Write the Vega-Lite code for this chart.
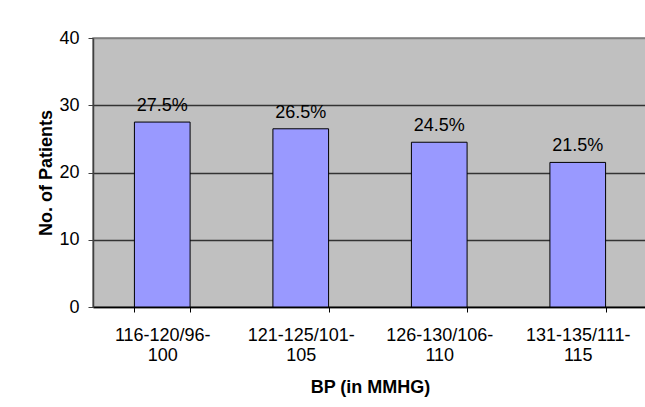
{
  "$schema": "https://vega.github.io/schema/vega-lite/v6.json",
  "width": 554,
  "height": 269,
  "autosize": {"type": "none"},
  "padding": {"left": 93, "top": 38, "right": 0, "bottom": 100},
  "background": "white",
  "config": {
    "font": "Liberation Sans",
    "view": {"fill": "#c0c0c0", "stroke": "#808080", "strokeWidth": 1.5}
  },
  "data": {
    "values": [
      {"bp": "116-120/96-100", "value": 27.5, "label": "27.5%"},
      {"bp": "121-125/101-105", "value": 26.5, "label": "26.5%"},
      {"bp": "126-130/106-110", "value": 24.5, "label": "24.5%"},
      {"bp": "131-135/111-115", "value": 21.5, "label": "21.5%"}
    ]
  },
  "encoding": {
    "x": {
      "field": "bp",
      "type": "nominal",
      "sort": null,
      "scale": {"paddingInner": 0.598, "paddingOuter": 0.299},
      "axis": {
        "title": "BP (in MMHG)",
        "titleFontSize": 18,
        "titleFontWeight": "bold",
        "titleColor": "black",
        "titlePadding": 14,
        "labelAngle": 0,
        "labelFontSize": 18,
        "labelColor": "black",
        "labelPadding": 14,
        "labelLineHeight": 20,
        "labelExpr": "[substring(datum.label, 0, lastindexof(datum.label, '-') + 1), substring(datum.label, lastindexof(datum.label, '-') + 1)]",
        "tickBand": "extent",
        "tickSize": 5,
        "tickColor": "black",
        "domainColor": "black",
        "domainWidth": 1.5,
        "grid": false
      }
    },
    "y": {
      "field": "value",
      "type": "quantitative",
      "scale": {"domain": [0, 40]},
      "axis": {
        "title": "No. of Patients",
        "titleFontSize": 18,
        "titleFontWeight": "bold",
        "titleColor": "black",
        "titlePadding": 3,
        "values": [0, 10, 20, 30, 40],
        "labelFontSize": 18,
        "labelColor": "black",
        "labelPadding": 9,
        "tickSize": 5,
        "tickColor": "#404040",
        "domainColor": "#404040",
        "domainWidth": 1.5,
        "grid": true,
        "gridColor": {"condition": {"test": "datum.value === 40", "value": "#808080"}, "value": "#333333"},
        "gridWidth": 1.5
      }
    }
  },
  "layer": [
    {
      "mark": {"type": "bar", "fill": "#9999ff", "stroke": "black", "strokeWidth": 1}
    },
    {
      "mark": {"type": "text", "baseline": "alphabetic", "dy": -11, "fontSize": 18, "color": "black"},
      "encoding": {"text": {"field": "label"}}
    }
  ]
}
